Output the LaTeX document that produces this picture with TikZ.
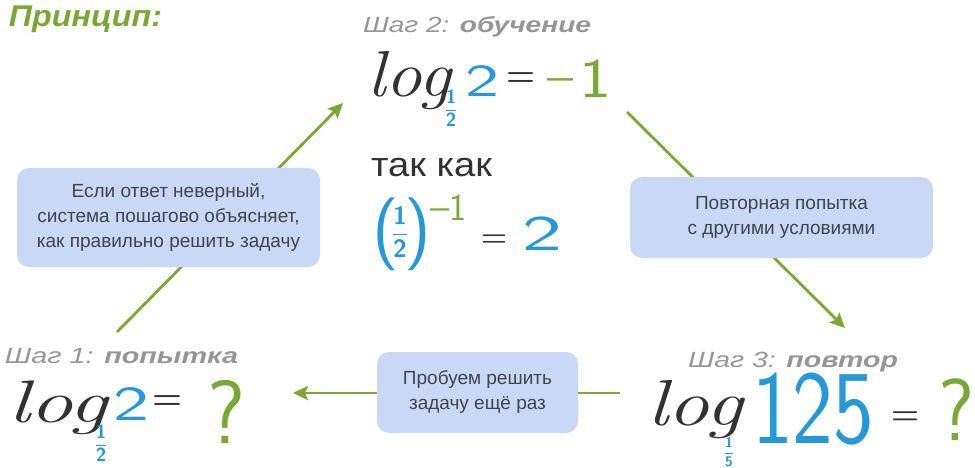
\documentclass[tikz,border=0pt]{standalone}
\usepackage{fontspec}
\newfontfamily\lib{Liberation Sans}
\usetikzlibrary{arrows.meta}
\definecolor{grn}{RGB}{122,168,52}
\definecolor{blu}{RGB}{38,152,216}
\definecolor{boxc}{RGB}{200,216,245}
\definecolor{lbl}{RGB}{150,150,150}
\definecolor{txt}{RGB}{62,68,80}
\definecolor{ink}{RGB}{50,50,50}
\newcommand\fitw[2]{\resizebox{#1}{\height}{#2}}
\newcommand\sz[1]{\fontsize{#1}{#1}\selectfont}
\newcommand\myfrac[2]{$\displaystyle\frac{\textsf{\textbf{#1}}}{\textsf{\textbf{#2}}}$}
\begin{document}
\begin{tikzpicture}[x=1pt,y=-1pt,
  every node/.style={inner sep=0pt, outer sep=0pt},
  note/.style={fill=boxc, rounded corners=12pt, align=center, text=txt,
    font=\lib\fontsize{19}{25}\selectfont},
  conn/.style={draw=grn, line width=2.8pt, -{Stealth[length=15pt,width=14pt,inset=3pt]}},
  steplbl/.style={anchor=base west, text=lbl, font=\lib\itshape\sz{22}},
  eq/.style={anchor=base west},
  sub/.style={text=blu, anchor=center}
]
\useasboundingbox (0,0) rectangle (975,468);

% connectors
\coordinate (s1) at (117,332); \coordinate (t1) at (343,103);
\coordinate (s2) at (627,112); \coordinate (t2) at (845,328);
\coordinate (s3) at (620,393); \coordinate (t3) at (293,393);
\draw[conn] (s1) -- (t1);
\draw[conn] (s2) -- (t2);
\draw[conn] (s3) -- (t3);

% boxes
\node[note, minimum width=303pt, minimum height=99pt] (bl) at (168.5,217.5)
  {Если ответ неверный,\\система пошагово объясняет,\\как правильно решить задачу};
\node[note, minimum width=303pt, minimum height=81pt] (br) at (781.5,217.5)
  {Повторная попытка\\с другими условиями};
\node[note, minimum width=201pt, minimum height=81pt] (bb) at (477.5,392.5)
  {Пробуем решить\\задачу ещё раз};

% title
\node[anchor=base west, text=grn] (title) at (9,27)
  {\fitw{153pt}{\lib\bfseries\itshape\sz{30}Принцип:}};

% labels
\node[steplbl] (l1) at (5,363) {\fitw{233pt}{Шаг 1: \textbf{попытка}}};
\node[steplbl] (l2) at (363,33) {\fitw{228pt}{Шаг 2: \textbf{обучение}}};
\node[steplbl] (l3) at (688,367) {\fitw{210pt}{Шаг 3: \textbf{повтор}}};

% step 2 equation
\node[eq, text=ink] (e2log) at (367,97) {\fitw{84pt}{\sz{65}\itshape log}};
\node[sub] (e2sub) at (451,108) {\sz{19}\myfrac{1}{2}};
\node[eq, text=blu] (e2two) at (465,97) {\fitw{34pt}{\sffamily\sz{46}2}};
\node[eq, text=ink] (e2eq) at (506,86.5) {\fitw{29pt}{\bfseries\sz{36}=}};
\node[eq, text=grn] (e2min) at (547,91) {\fitw{26pt}{\sffamily\sz{40}–}};
\node[eq, text=grn] (e2one) at (579,98) {\fitw{32pt}{\sffamily\sz{56}1}};

% так как
\node[eq, text=ink] (tk) at (371,177) {\fitw{121pt}{\lib\sz{34}так как}};

% (1/2)^-1 = 2
\node[eq, text=blu] (pl) at (372,252) {\sffamily\sz{73}(};
\node[sub] (pf) at (400,232) {\sz{25}\myfrac{1}{2}};
\node[eq, text=blu] (pr) at (404,252) {\sffamily\sz{73})};
\node[eq, text=grn] (pmin) at (430,219) {\fitw{19pt}{\sffamily\sz{36}–}};
\node[eq, text=grn] (pone) at (449,220) {\fitw{17pt}{\sffamily\sz{38}1}};
\node[eq, text=ink] (peq) at (481,246.5) {\fitw{26pt}{\bfseries\sz{30}=}};
\node[eq, text=blu] (ptwo) at (522,250) {\fitw{40pt}{\sffamily\sz{50}2}};

% step 1 equation
\node[eq, text=ink] (e1log) at (8,422) {\fitw{100pt}{\sz{60}\itshape log}};
\node[sub] (e1sub) at (101,443) {\sz{19}\myfrac{1}{2}};
\node[eq, text=blu] (e1two) at (113,420) {\fitw{36pt}{\sffamily\sz{49}2}};
\node[eq, text=ink] (e1eq) at (152,409) {\fitw{30pt}{\bfseries\sz{36}=}};
\node[eq, text=grn] (e1q) at (207,443) {\fitw{38pt}{\sffamily\sz{90}?}};

% step 3 equation
\node[eq, text=ink] (e3log) at (647,425) {\fitw{96pt}{\sz{65}\itshape log}};
\node[sub] (e3sub) at (729,452) {\sz{14}\myfrac{1}{5}};
\node[eq, text=blu] (e3num) at (752,443) {\fitw{122pt}{\sffamily\sz{105}125}};
\node[eq, text=ink] (e3eq) at (891,424) {\fitw{28pt}{\bfseries\sz{33}=}};
\node[eq, text=grn] (e3q) at (938,440) {\fitw{36pt}{\sffamily\sz{88}?}};
\end{tikzpicture}
\end{document}
